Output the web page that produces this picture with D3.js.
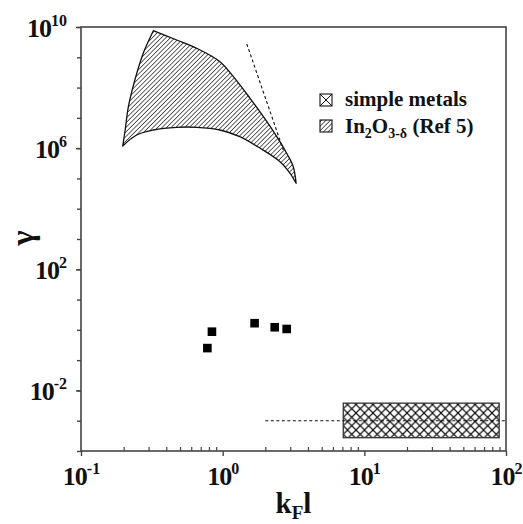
<!DOCTYPE html>
<html>
<head>
<meta charset="utf-8">
<script src="https://cdn.jsdelivr.net/npm/d3@7"></script>
<style>
body { margin: 0; background: #fff; }
text { font-family: "Liberation Serif", "Times New Roman", serif; font-weight: bold; fill: #111; }
</style>
</head>
<body>
<script>
// tick labels
var xDecades = [0.1, 1, 10, 100];
var xExponents = ["-1", "0", "1", "2"];
var yDecades = [1e-2, 1e2, 1e6, 1e10];
var yExponents = ["-2", "2", "6", "10"];

// measured samples (squares)
var sampleKFl = [0.78, 0.84, 1.68, 2.33, 2.83];
var sampleGamma = [0.25, 0.87, 1.66, 1.22, 1.07];

// simple metals box + dashed guide
var metalsKFl = [7.1, 89.5];
var metalsGamma = [2.75e-4, 3.8e-3];
var metalsLineKFl = [2, 100];
var metalsLineGamma = [1e-3, 1e-3];

// In2O3-d region (Ref 5), outline in three pieces
var inoLeftEdge = [[0.197, 1.18e6], [0.205, 3.97e6], [0.216, 2.33e7], [0.240, 1.78e8], [0.275, 1.36e9], [0.324, 7.56e9]];
var inoTopEdge = [[0.324, 7.56e9], [0.474, 3.72e9], [0.656, 1.98e9], [0.957, 7.15e8], [1.19, 2.29e8], [1.56, 4.43e7],
    [1.94, 1.09e7], [2.41, 2.39e6], [2.83, 6.76e5], [3.15, 2.44e5], [3.30, 6.9e4]];
var inoBottomEdge = [[3.30, 6.9e4], [2.99, 1.48e5], [2.54, 3.57e5], [1.84, 9.9e5], [1.32, 2.39e6], [0.957, 3.97e6],
    [0.656, 4.88e6], [0.474, 4.88e6], [0.324, 3.97e6], [0.247, 2.72e6], [0.197, 1.18e6]];
var inoSlopeKFl = [1.48, 2.68];
var inoSlopeGamma = [2.75e9, 8.7e5];

var legendLabels = ["simple metals", "In2O3-δ (Ref 5)"];

var margin = {top: 27, right: 17, bottom: 73, left: 81},
    width = 523 - margin.left - margin.right,
    height = 524 - margin.top - margin.bottom;

var svg = d3.select("body").append("svg")
    .attr("width", 523)
    .attr("height", 524);

var defs = svg.append("defs");
defs.append("pattern")
    .attr("id", "diag")
    .attr("patternUnits", "userSpaceOnUse")
    .attr("width", 3.2).attr("height", 3.2)
    .attr("patternTransform", "rotate(45)")
    .append("line")
    .attr("x1", 0).attr("y1", 0).attr("x2", 0).attr("y2", 3.2)
    .attr("stroke", "#111").attr("stroke-width", 1.3);

var cross = defs.append("pattern")
    .attr("id", "cross")
    .attr("patternUnits", "userSpaceOnUse")
    .attr("x", 343).attr("y", 403)
    .attr("width", 8.5).attr("height", 8.5);
cross.append("path")
    .attr("d", "M0,0L8.5,8.5M0,8.5L8.5,0")
    .attr("stroke", "#111").attr("stroke-width", 1.2);

var g = svg.append("g")
    .attr("transform", "translate(" + margin.left + "," + margin.top + ")");

var x = d3.scaleLog().domain([0.1, 100]).range([0, width]);
var y = d3.scaleLog().domain([1e-4, 1e10]).range([height, 0]);

// frame
g.append("rect")
    .attr("width", width).attr("height", height)
    .attr("fill", "none").attr("stroke", "#444").attr("stroke-width", 1.6);

// x axis: minor ticks inside, decades outside
var isDecade = function(v) { return Math.abs(Math.log10(v) - Math.round(Math.log10(v))) < 1e-6; };

g.append("g")
    .attr("transform", "translate(0," + height + ")")
    .call(d3.axisBottom(x).tickValues(x.ticks().filter(function(v) { return !isDecade(v); }))
        .tickSize(-4).tickFormat(""))
    .call(function(a) { a.select(".domain").remove(); a.selectAll("line").attr("stroke", "#444").attr("stroke-width", 1.2); });

var xAxis = g.append("g")
    .attr("transform", "translate(0," + height + ")")
    .call(d3.axisBottom(x).tickValues(xDecades).tickSize(5).tickFormat(""))
    .call(function(a) { a.select(".domain").remove(); a.selectAll("line").attr("stroke", "#444").attr("stroke-width", 1.4); });

var xt = xAxis.selectAll(".tick").append("text")
    .attr("y", 34).attr("text-anchor", "middle").attr("font-size", 26);
xt.append("tspan").attr("letter-spacing", -1).text("10");
xt.append("tspan").attr("dy", -11).attr("font-size", 16).text(function(d, i) { return xExponents[i]; });

// y axis: a tick at every decade, labels every fourth
g.append("g")
    .call(d3.axisLeft(y).tickValues(y.ticks().filter(isDecade)).tickSize(4).tickFormat(""))
    .call(function(a) { a.select(".domain").remove(); a.selectAll("line").attr("stroke", "#444").attr("stroke-width", 1.4); });

var yAxis = g.append("g")
    .call(d3.axisLeft(y).tickValues(yDecades).tickSize(5).tickFormat(""))
    .call(function(a) { a.select(".domain").remove(); a.selectAll("line").attr("stroke", "#444").attr("stroke-width", 1.4); });

var yt = yAxis.selectAll(".tick").append("text")
    .attr("x", -14).attr("y", 9).attr("text-anchor", "end").attr("font-size", 26);
yt.append("tspan").attr("letter-spacing", -1).text("10");
yt.append("tspan").attr("dy", -11).attr("font-size", 16).text(function(d, i) { return yExponents[i]; });

// axis titles
var xl = svg.append("text")
    .attr("x", margin.left + width / 2).attr("y", 513)
    .attr("text-anchor", "middle").attr("font-size", 29);
xl.append("tspan").text("k");
xl.append("tspan").attr("dy", 6).attr("font-size", 19).text("F");
xl.append("tspan").attr("dy", -6).text("l");

svg.append("text")
    .attr("transform", "translate(33,238) rotate(-90)")
    .attr("text-anchor", "middle").attr("font-size", 32)
    .text("γ");

// In2O3 region
var edge = d3.line()
    .x(function(d) { return x(d[0]); })
    .y(function(d) { return y(d[1]); })
    .curve(d3.curveCatmullRom.alpha(0.5));

var regionPath = edge(inoLeftEdge) + edge(inoTopEdge).replace(/^M/, "L") + edge(inoBottomEdge).replace(/^M/, "L") + "Z";

g.append("path")
    .attr("d", regionPath)
    .attr("fill", "url(#diag)")
    .attr("stroke", "#111").attr("stroke-width", 1.3).attr("stroke-linejoin", "round");

var dashed = d3.line()
    .x(function(d) { return x(d[0]); })
    .y(function(d) { return y(d[1]); });

g.append("path")
    .attr("d", dashed(d3.zip(inoSlopeKFl, inoSlopeGamma)))
    .attr("fill", "none").attr("stroke", "#111").attr("stroke-width", 1.1)
    .attr("stroke-dasharray", "3,2.5");

// simple metals
g.append("rect")
    .attr("x", x(metalsKFl[0])).attr("y", y(metalsGamma[1]))
    .attr("width", x(metalsKFl[1]) - x(metalsKFl[0]))
    .attr("height", y(metalsGamma[0]) - y(metalsGamma[1]))
    .attr("fill", "url(#cross)")
    .attr("stroke", "#333").attr("stroke-width", 1.3);

g.append("path")
    .attr("d", dashed(d3.zip(metalsLineKFl, metalsLineGamma)))
    .attr("fill", "none").attr("stroke", "#111").attr("stroke-width", 1.1)
    .attr("stroke-dasharray", "3,2.5");

// samples
g.selectAll(".sample")
    .data(d3.zip(sampleKFl, sampleGamma)).enter()
    .append("rect")
    .attr("class", "sample")
    .attr("x", function(d) { return x(d[0]) - 4.3; })
    .attr("y", function(d) { return y(d[1]) - 4.3; })
    .attr("width", 8.6).attr("height", 8.6)
    .attr("fill", "#000");

// legend
var legend = svg.append("g").attr("transform", "translate(320,94)");

legend.append("rect")
    .attr("width", 12).attr("height", 12)
    .attr("fill", "#fff").attr("stroke", "#111").attr("stroke-width", 1.1);
legend.append("path")
    .attr("d", "M0,0L12,12M0,12L12,0")
    .attr("stroke", "#111").attr("stroke-width", 1);

legend.append("rect")
    .attr("y", 26).attr("width", 12).attr("height", 12)
    .attr("fill", "url(#diag)").attr("stroke", "#111").attr("stroke-width", 1.1);

legend.append("text")
    .attr("x", 25).attr("y", 12).attr("font-size", 21)
    .text(legendLabels[0]);

var l2 = legend.append("text")
    .attr("x", 25).attr("y", 39).attr("font-size", 21);
l2.append("tspan").text("In");
l2.append("tspan").attr("dy", 5).attr("font-size", 14).text("2");
l2.append("tspan").attr("dy", -5).text("O");
l2.append("tspan").attr("dy", 5).attr("font-size", 14).text("3-δ");
l2.append("tspan").attr("dy", -5).text(" (Ref 5)");
</script>
</body>
</html>
